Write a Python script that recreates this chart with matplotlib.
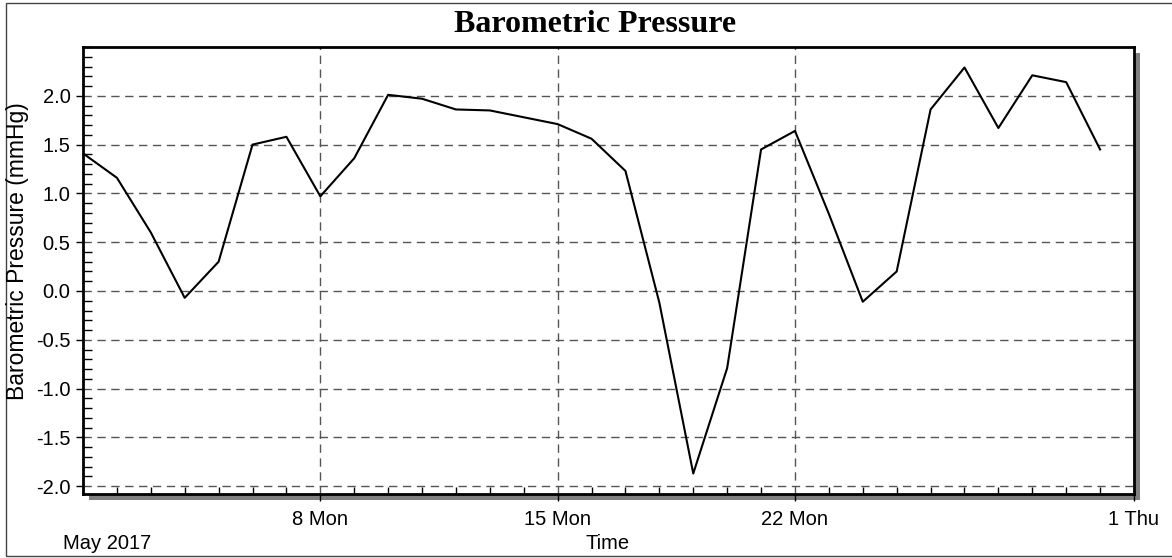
import numpy as np
import pandas as pd
import matplotlib
matplotlib.use("Agg")
import matplotlib.pyplot as plt
import matplotlib.dates as mdates
from matplotlib.patches import Rectangle
from matplotlib.ticker import MultipleLocator, FuncFormatter, FixedLocator

# daily barometric pressure, May 2017
days = pd.date_range("2017-05-01", periods=31, freq="D")
pressure = [1.41, 1.16, 0.60, -0.07, 0.30, 1.50, 1.58, 0.97, 1.36, 2.01,
            1.97, 1.86, 1.85, 1.78, 1.71, 1.56, 1.23, -0.12, -1.87, -0.79,
            1.45, 1.64, 0.79, -0.11, 0.20, 1.86, 2.29, 1.67, 2.21, 2.14,
            1.45]
major_days = pd.to_datetime(["2017-05-08", "2017-05-15", "2017-05-22", "2017-06-01"])
y_ticks = [-2.0, -1.5, -1.0, -0.5, 0.0, 0.5, 1.0, 1.5, 2.0]

plt.rcParams['font.family'] = ['Liberation Sans', 'DejaVu Sans']

W, H = 1172, 558
fig = plt.figure(figsize=(W / 100, H / 100), dpi=100)
L, R, T, B = 83, 1134, 47, 494
ax = fig.add_axes([L / W, 1 - B / H, (R - L) / W, (B - T) / H])

# drop shadow behind the plot area
fig.patches.append(Rectangle(((L + 6) / W, 1 - (B + 6) / H), (R - L) / W, (B - T) / H,
                             transform=fig.transFigure, facecolor='#808080',
                             edgecolor='none', zorder=0))
# outer frame
fig.patches.append(Rectangle((6 / W, 2 / H), (W + 10) / W, (H - 5) / H,
                             transform=fig.transFigure, facecolor='none',
                             edgecolor='#444444', lw=1, zorder=0))
ax.set_zorder(1)

ax.plot(days, pressure, color='black', lw=1.5, zorder=3)

ax.set_xlim(pd.Timestamp("2017-05-01"), pd.Timestamp("2017-06-01"))
ax.set_ylim(-2.08, 2.5)

ax.xaxis.set_major_locator(FixedLocator(mdates.date2num(major_days)))
ax.xaxis.set_major_formatter(FuncFormatter(
    lambda v, p: f"{mdates.num2date(v).day} {mdates.num2date(v):%a}"))
ax.xaxis.set_minor_locator(mdates.DayLocator())
ax.yaxis.set_major_locator(FixedLocator(y_ticks))
ax.yaxis.set_minor_locator(MultipleLocator(0.1))
ax.yaxis.set_major_formatter(FuncFormatter(lambda v, p: f"{v:.1f}"))

ax.tick_params(which='major', direction='out', length=5, width=1, labelsize=14.5, pad=4)
ax.tick_params(axis='x', which='major', pad=6.5)
ax.tick_params(which='minor', direction='in', length=5, width=1)
ax.tick_params(axis='y', which='minor', length=6.5)
ax.tick_params(top=False, right=False, which='both')

for s in ax.spines.values():
    s.set_linewidth(2)
    s.set_color('black')

ax.grid(True, which='major', color='#555555', lw=1, linestyle=(0, (6, 4)))
ax.set_axisbelow(True)

fig.text(595 / W, 1 - 25 / H, "Barometric Pressure", ha='center', va='center',
         fontsize=23, fontweight='bold', family=['Liberation Serif', 'DejaVu Serif'])
fig.text(18 / W, 1 - 251 / H, "Barometric Pressure (mmHg)", rotation=90,
         ha='center', va='center', fontsize=16.5)
fig.text(608 / W, 1 - 549 / H, "Time", ha='center', va='baseline', fontsize=14.5)
fig.text(63 / W, 1 - 549 / H, "May 2017", ha='left', va='baseline', fontsize=14.5)

fig.savefig("out.png", dpi=100)
